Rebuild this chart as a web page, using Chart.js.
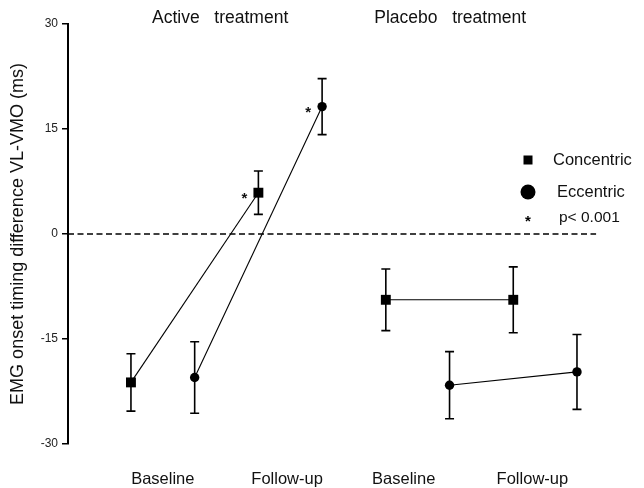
<!DOCTYPE html>
<html><head><meta charset="utf-8">
<script src="https://cdn.jsdelivr.net/npm/chart.js@4.4.1/dist/chart.umd.min.js"></script>
<style>html,body{margin:0;padding:0;background:#fff}canvas{display:block}</style>
</head><body>
<canvas id="c" width="644" height="488"></canvas>
<script>
// Time points (two per treatment arm) and treatment arms
const timepoints = ['Baseline', 'Follow-up', 'Baseline', 'Follow-up'];
const treatments = ['Active   treatment', 'Placebo   treatment'];
const yTicks = [-30, -15, 0, 15, 30];

// VL-VMO onset timing difference (ms): mean and error
const concentricMean = [-21.2, 5.9, -9.4, -9.4];
const concentricErr  = [4.1, 3.1, 4.4, 4.7];
const concentricSig  = [false, true, false, false];
const eccentricMean  = [-20.5, 18.2, -21.6, -19.7];
const eccentricErr   = [5.1, 4.0, 4.8, 5.35];
const eccentricSig   = [false, true, false, false];

const legendLabels = ['Concentric', 'Eccentric', 'p< 0.001'];

// Layout: each time point has two slots (concentric, eccentric)
const FONT = "'Liberation Sans', Arial, sans-serif";
const labelSlots = [0.5, 2.45, 4.28, 6.3];
const treatmentSlots = [1.4, 5.01];
const zeroLineEnd = 7.3;

const concPts = concentricMean.map((v, i) => ({ x: 2 * i, y: v }));
const eccPts = eccentricMean.map((v, i) => ({ x: 2 * i + 1, y: v }));

// no line between the active and placebo arms
const splitArms = { borderColor: ctx => ctx.p0DataIndex === 1 ? 'rgba(0,0,0,0)' : '#000' };

const extras = {
  id: 'extras',
  beforeDatasetsDraw(chart) {
    const { ctx, chartArea, scales: { x, y } } = chart;
    ctx.save();
    // dashed zero reference line
    const y0 = y.getPixelForValue(0);
    ctx.strokeStyle = '#000';
    ctx.lineWidth = 1.5;
    ctx.setLineDash([6, 3.5]);
    ctx.beginPath();
    ctx.moveTo(chartArea.left, y0);
    ctx.lineTo(x.getPixelForValue(zeroLineEnd), y0);
    ctx.stroke();
    ctx.setLineDash([]);
    // error bars
    const bars = (means, errs, offset) => means.forEach((m, i) => {
      const px = x.getPixelForValue(2 * i + offset);
      const top = y.getPixelForValue(m + errs[i]);
      const bot = y.getPixelForValue(m - errs[i]);
      ctx.lineWidth = 1.6;
      ctx.beginPath();
      ctx.moveTo(px, top); ctx.lineTo(px, bot);
      ctx.moveTo(px - 4.5, top); ctx.lineTo(px + 4.5, top);
      ctx.moveTo(px - 4.5, bot); ctx.lineTo(px + 4.5, bot);
      ctx.stroke();
    });
    bars(concentricMean, concentricErr, 0);
    bars(eccentricMean, eccentricErr, 1);
    ctx.restore();
  },
  afterDatasetsDraw(chart) {
    const { ctx, scales: { x, y } } = chart;
    ctx.save();
    ctx.fillStyle = '#111';
    // significance marks
    ctx.font = 'bold 15px ' + FONT;
    ctx.textAlign = 'center';
    ctx.textBaseline = 'alphabetic';
    const stars = (means, sig, offset) => means.forEach((m, i) => {
      if (!sig[i]) return;
      ctx.fillText('*', x.getPixelForValue(2 * i + offset) - 14, y.getPixelForValue(m) + 10);
    });
    stars(concentricMean, concentricSig, 0);
    stars(eccentricMean, eccentricSig, 1);
    // treatment headings
    ctx.font = '17.5px ' + FONT;
    ctx.textBaseline = 'middle';
    treatments.forEach((t, i) => ctx.fillText(t, x.getPixelForValue(treatmentSlots[i]), 18));
    // legend
    ctx.fillStyle = '#000';
    ctx.fillRect(523.5, 155.5, 9, 9);
    ctx.beginPath();
    ctx.arc(528, 192, 7.5, 0, Math.PI * 2);
    ctx.fill();
    ctx.font = 'bold 15px ' + FONT;
    ctx.textAlign = 'center';
    ctx.textBaseline = 'alphabetic';
    ctx.fillText('*', 528, 226);
    ctx.fillStyle = '#111';
    ctx.textAlign = 'left';
    ctx.textBaseline = 'middle';
    ctx.font = '16.5px ' + FONT;
    ctx.fillText(legendLabels[0], 553, 160);
    ctx.fillText(legendLabels[1], 557, 192);
    ctx.font = '15.5px ' + FONT;
    ctx.fillText(legendLabels[2], 559, 218);
    ctx.restore();
  }
};

new Chart(document.getElementById('c'), {
  type: 'scatter',
  data: {
    datasets: [
      {
        label: 'Concentric', data: concPts, showLine: true,
        borderColor: '#000', borderWidth: 1.1, segment: splitArms,
        pointStyle: 'rect', pointRadius: 7, pointBackgroundColor: '#000',
        pointBorderWidth: 0
      },
      {
        label: 'Eccentric', data: eccPts, showLine: true,
        borderColor: '#000', borderWidth: 1.1, segment: splitArms,
        pointStyle: 'circle', pointRadius: 4.7, pointBackgroundColor: '#000',
        pointBorderWidth: 0
      }
    ]
  },
  options: {
    responsive: false, animation: false, devicePixelRatio: 1,
    layout: { padding: { top: 24, right: 0, left: 0, bottom: 0 } },
    plugins: { legend: { display: false }, tooltip: { enabled: false } },
    scales: {
      x: {
        type: 'linear', min: -0.988, max: 7.942,
        grid: { display: false, drawTicks: false },
        border: { display: false },
        afterBuildTicks: s => { s.ticks = labelSlots.map(v => ({ value: v })); },
        afterFit: s => { s.height = 44; },
        ticks: {
          autoSkip: false, maxRotation: 0, padding: 26, color: '#111',
          font: { family: FONT, size: 16.5 },
          callback: (v, i) => timepoints[i]
        }
      },
      y: {
        min: -30, max: 30,
        afterBuildTicks: s => { s.ticks = yTicks.map(v => ({ value: v })); },
        afterFit: s => { s.width = 68; },
        grid: { drawOnChartArea: false, drawTicks: true, tickLength: 6, color: '#000', lineWidth: 1.5 },
        border: { display: true, color: '#000', width: 2 },
        ticks: { padding: 4, color: '#222', font: { family: FONT, size: 12 } },
        title: {
          display: true, text: 'EMG onset timing difference VL-VMO (ms)',
          color: '#111', font: { family: FONT, size: 18 }, padding: { top: 7, bottom: 0 }
        }
      }
    }
  },
  plugins: [extras]
});
</script>
</body></html>
